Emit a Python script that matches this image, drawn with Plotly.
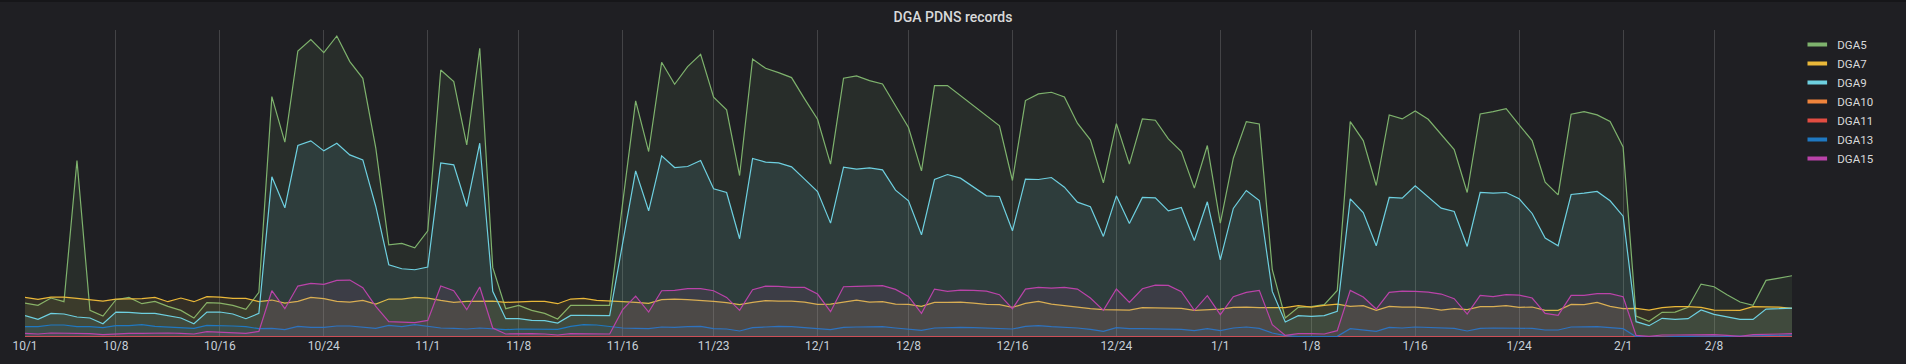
import pandas as pd
import plotly.graph_objects as go

# ---------------- data (daily values, 2019-10-01 .. 2020-02-14) ----------------
start_date = "2019-10-01"
n_days = 137

DGA5 = [102, 95, 117, 106, 530, 80, 63, 112, 119, 100, 107, 92, 80, 57, 103, 102, 95, 83, 134, 722,
        585, 859, 893, 854, 904, 827, 777, 567, 277, 281, 268, 319, 802, 767, 577,
        867, 209, 85, 95, 80, 71, 54, 95, 95, 95, 95, 402, 709, 557, 825, 759, 812, 849, 720, 682,
        485, 835, 807, 794, 779, 715, 654, 519, 777, 784, 770, 760, 694, 629,
        499, 755, 755, 725, 695, 665, 634, 470, 710, 730, 735, 721, 642, 592, 463, 641, 519, 655,
        651, 595, 557, 447, 575, 342, 537, 647, 640, 202, 57, 89, 91, 97, 140, 647,
        590, 455, 667, 655, 679, 654, 609, 563, 434, 670, 677, 686, 637, 590, 465, 427, 669, 677,
        667, 647, 571, 63, 47, 74, 75, 89, 159, 151, 127, 105, 95, 170, 177, 184]

DGA7 = [119, 113, 120, 120, 116, 111, 108, 114, 114, 115, 119, 106, 117, 106, 121, 120, 116, 116, 106, 111,
        102, 107, 119, 115, 107, 105, 110, 99, 114, 114, 119, 117, 110, 104, 107,
        108, 108, 104, 106, 107, 107, 100, 114, 116, 110, 109, 106, 104, 101, 112, 114, 112, 110, 107, 103,
        97, 104, 109, 108, 108, 105, 98, 99, 105, 111, 105, 106, 99, 98,
        92, 104, 104, 105, 102, 98, 97, 89, 101, 107, 99, 94, 89, 85, 82, 82, 81, 88,
        88, 86, 86, 80, 82, 84, 89, 90, 88, 89, 88, 94, 90, 95, 99, 92,
        94, 80, 92, 90, 90, 87, 81, 85, 82, 91, 91, 94, 89, 90, 80, 80, 98, 97,
        104, 92, 85, 86, 81, 88, 91, 91, 89, 81, 80, 80, 91, 91, 90, 86]

DGA9 = [64, 53, 71, 69, 60, 57, 40, 75, 74, 71, 71, 65, 57, 40, 75, 75, 69, 55, 71, 481,
        388, 575, 589, 559, 582, 547, 532, 392, 217, 205, 202, 210, 523, 517, 392,
        582, 137, 55, 55, 50, 49, 42, 65, 65, 64, 64, 282, 499, 379, 544, 509, 512, 530, 445, 434,
        295, 536, 525, 523, 511, 474, 437, 342, 510, 504, 508, 502, 441, 409,
        307, 473, 488, 477, 450, 424, 422, 319, 474, 473, 479, 450, 405, 391, 302, 424, 341, 419,
        418, 379, 389, 290, 406, 232, 386, 440, 410, 137, 45, 64, 62, 64, 77, 415,
        374, 274, 419, 417, 454, 420, 387, 377, 272, 434, 432, 434, 415, 371, 297, 274, 428, 432,
        437, 409, 363, 46, 34, 56, 53, 55, 81, 68, 60, 53, 53, 84, 85, 87]

DGA10 = [1, 1, 1, 1, 1, 1, 1, 1, 1, 1, 1, 1, 1, 1, 1, 1, 1, 1, 1, 1,
         1, 1, 1, 1, 1, 1, 1, 1, 1, 1, 1, 1, 1, 1, 1,
         1, 1, 1, 1, 1, 1, 1, 1, 1, 1, 1, 1, 1, 1, 1, 1, 1, 1, 1, 1,
         1, 1, 1, 1, 1, 1, 1, 1, 1, 1, 1, 1, 1, 1,
         1, 1, 1, 1, 1, 1, 1, 1, 1, 1, 1, 1, 1, 1, 1, 1, 1, 1,
         1, 1, 1, 1, 1, 1, 1, 1, 1, 1, 1, 1, 1, 1, 1, 1,
         1, 1, 1, 1, 1, 1, 1, 1, 1, 1, 1, 1, 1, 1, 1, 1, 1, 1,
         1, 1, 1, 1, 1, 1, 1, 1, 1, 1, 1, 1, 1, 1, 1, 1]

DGA11 = [1, 1, 1, 1, 1, 1, 1, 1, 1, 1, 1, 1, 1, 1, 1, 1, 1, 1, 1, 1,
         1, 1, 1, 1, 1, 1, 1, 1, 1, 1, 1, 1, 1, 1, 1,
         1, 1, 1, 1, 1, 1, 1, 1, 1, 1, 1, 1, 1, 1, 1, 1, 1, 1, 1, 1,
         1, 1, 1, 1, 1, 1, 1, 1, 1, 1, 1, 1, 1, 1,
         1, 1, 1, 1, 1, 1, 1, 1, 1, 1, 1, 1, 1, 1, 1, 1, 1, 1,
         1, 1, 1, 1, 1, 1, 1, 1, 1, 1, 1, 1, 1, 1, 1, 1,
         1, 1, 1, 1, 1, 1, 1, 1, 1, 1, 1, 1, 1, 1, 1, 1, 1, 1,
         1, 1, 1, 1, 1, 1, 1, 1, 1, 1, 1, 1, 1, 1, 1, 1]

DGA13 = [31, 31, 36, 36, 31, 31, 28, 34, 34, 37, 32, 30, 30, 26, 35, 35, 33, 31, 25, 26,
         22, 32, 29, 29, 33, 33, 30, 26, 35, 31, 37, 31, 27, 26, 24,
         27, 24, 22, 24, 24, 24, 23, 32, 37, 36, 32, 27, 26, 25, 30, 29, 31, 32, 25, 24,
         18, 28, 30, 32, 31, 29, 25, 22, 29, 30, 30, 31, 27, 24,
         20, 27, 29, 29, 28, 26, 24, 24, 32, 34, 31, 30, 27, 23, 17, 28, 25, 25,
         25, 25, 23, 19, 25, 19, 27, 30, 26, 12, 4, 1, 1, 1, 2, 25,
         21, 17, 29, 27, 30, 29, 28, 26, 18, 26, 27, 27, 28, 26, 21, 21, 30, 30,
         31, 28, 25, 1, 0, 0, 1, 2, 3, 3, 2, 3, 4, 5, 5, 6]

DGA15 = [11, 9, 12, 12, 11, 10, 7, 10, 11, 11, 12, 12, 11, 9, 16, 14, 12, 11, 17, 139,
         85, 153, 161, 158, 170, 171, 148, 92, 46, 45, 43, 50, 153, 139, 82,
         150, 27, 9, 10, 10, 9, 6, 10, 10, 10, 9, 82, 123, 75, 139, 140, 145, 145, 139, 119,
         80, 142, 153, 152, 149, 149, 129, 76, 151, 152, 153, 154, 143, 122,
         71, 144, 137, 141, 140, 138, 127, 85, 144, 149, 147, 149, 144, 117, 80, 144, 104, 145,
         156, 155, 136, 80, 124, 67, 121, 134, 140, 37, 5, 10, 10, 9, 19, 140,
         120, 84, 134, 138, 137, 135, 129, 115, 69, 125, 121, 127, 126, 117, 71, 65, 125, 125,
         130, 130, 121, 5, 2, 6, 6, 7, 8, 7, 5, 2, 7, 9, 9, 10]

series_names = ["DGA5", "DGA7", "DGA9", "DGA10", "DGA11", "DGA13", "DGA15"]
series_values = [DGA5, DGA7, DGA9, DGA10, DGA11, DGA13, DGA15]
series_colors = ["#7EB26D", "#EAB839", "#6ED0E0", "#EF843C", "#E24D42", "#1F78C1", "#BA43A9"]

tick_dates = ["2019-10-01", "2019-10-08", "2019-10-16", "2019-10-24", "2019-11-01", "2019-11-08",
              "2019-11-16", "2019-11-23", "2019-12-01", "2019-12-08", "2019-12-16", "2019-12-24",
              "2020-01-01", "2020-01-08", "2020-01-16", "2020-01-24", "2020-02-01", "2020-02-08"]
tick_labels = ["10/1", "10/8", "10/16", "10/24", "11/1", "11/8", "11/16", "11/23", "12/1", "12/8",
               "12/16", "12/24", "1/1", "1/8", "1/16", "1/24", "2/1", "2/8"]

title_text = "DGA PDNS records"

# ---------------- figure ----------------
dates = pd.date_range(start_date, periods=n_days, freq="D")


def rgba(hex_color, a):
    h = hex_color.lstrip("#")
    r, g, b = int(h[0:2], 16), int(h[2:4], 16), int(h[4:6], 16)
    return f"rgba({r},{g},{b},{a})"


BG = "#1f1f23"
W, H = 1906, 364
ML, MR, MT, MB = 25, 114, 30, 27
fig = go.Figure()

for name, vals, col in zip(series_names, series_values, series_colors):
    fig.add_trace(go.Scatter(
        x=dates, y=vals, name=name, mode="lines",
        line=dict(color=col, width=1.2),
        fill="tozeroy", fillcolor=rgba(col, 0.1),
        showlegend=False, hoverinfo="x+y+name",
    ))

# legend entries (short thick swatches like the original)
for name, col in zip(series_names, series_colors):
    fig.add_trace(go.Scatter(
        x=[None], y=[None], name=name, mode="markers",
        marker=dict(symbol="line-ew-open", size=14, color=col, line=dict(color=col, width=4)),
        showlegend=True,
    ))

pw, ph = W - ML - MR, H - MT - MB
# thin darker band along the top edge of the panel
fig.add_shape(type="rect", xref="paper", yref="paper",
              x0=-ML / pw, x1=1 + MR / pw, y0=1 + (MT - 2) / ph, y1=1 + MT / ph,
              fillcolor="#161619", line=dict(width=0), layer="below")

fig.update_layout(
    width=W, height=H,
    paper_bgcolor=BG, plot_bgcolor=BG,
    margin=dict(l=ML, r=MR, t=MT, b=MB),
    font=dict(family="Roboto, 'Open Sans', sans-serif", color="#c7d0d9", size=12),
    title=dict(text=title_text, x=0.5, xref="container", xanchor="center",
               y=1 - 17 / H, yref="container", yanchor="middle",
               font=dict(family="Roboto", size=14, color="#d8d9da", weight=500)),
    showlegend=True,
    legend=dict(x=1.003, xanchor="left", y=1.0, yanchor="top",
                bgcolor="rgba(0,0,0,0)", font=dict(size=11.5, color="#d8d9da"),
                tracegroupgap=0, itemwidth=30),
    xaxis=dict(type="date", range=[dates[0], dates[-1]],
               tickmode="array", tickvals=tick_dates, ticktext=tick_labels,
               showgrid=True, gridcolor="rgba(255,255,255,0.16)", gridwidth=1,
               zeroline=False, showline=False, ticks="",
               tickfont=dict(size=12, color="#c7d0d9")),
    yaxis=dict(range=[0, 922], showgrid=False, zeroline=False, showline=False,
               showticklabels=False, ticks=""),
)

fig.write_html(
    "out.html",
    config={"displayModeBar": False},
    post_script="document.body.style.margin='0';document.body.style.background='%s';"
                "document.body.style.overflow='hidden';" % BG,
)
